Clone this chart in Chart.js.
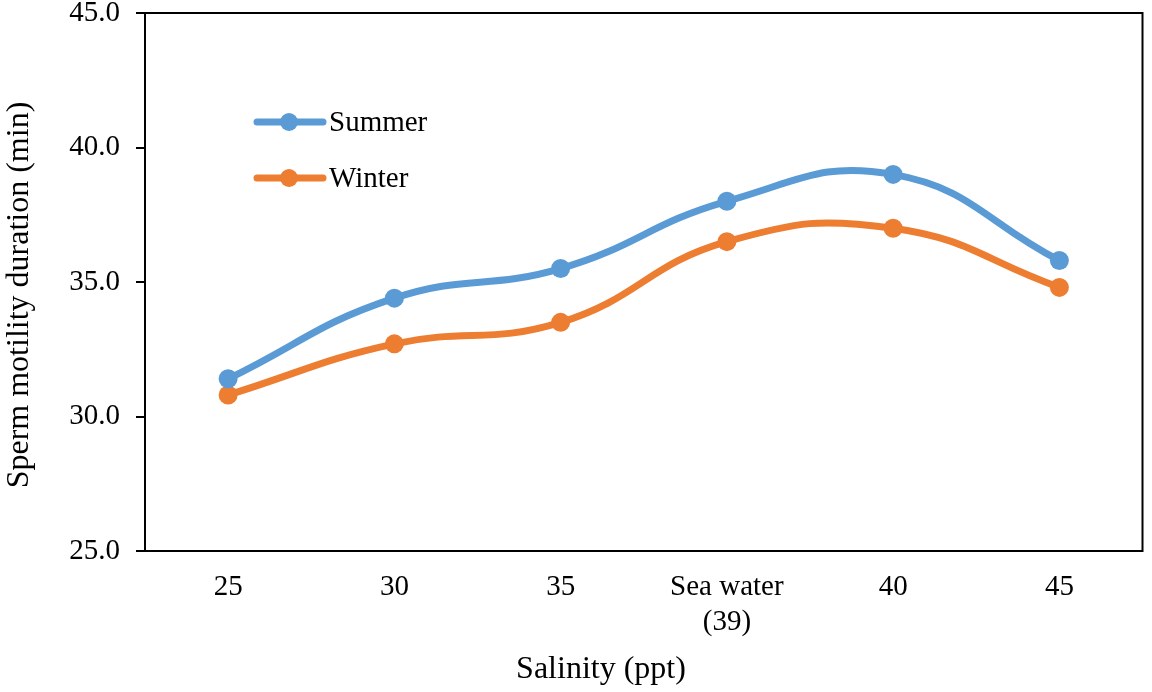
<!DOCTYPE html>
<html lang="en">
<head>
  <meta charset="UTF-8">
  <title>Sperm motility duration</title>
  <script src="https://cdn.jsdelivr.net/npm/chart.js"></script>
  <style>
    html, body { margin: 0; padding: 0; background: #fff; }
    #wrap { width: 1152px; height: 692px; }
  </style>
</head>
<body>
  <div id="wrap"><canvas id="chart"></canvas></div>

  <script>
    // data
    const categories = ['25', '30', '35', ['Sea water', '(39)'], '40', '45'];
    const summer = [31.4, 34.4, 35.5, 38.0, 39.0, 35.8];
    const winter = [30.8, 32.7, 33.5, 36.5, 37.0, 34.8];
    const yTicks = [25, 30, 35, 40, 45];

    const blue = '#5B9BD5';
    const orange = '#ED7D31';
    const font = 'Liberation Serif';

    // box round the plot area, legend inside it, axis titles
    const framePlugin = {
      id: 'frame',
      afterDraw(chart) {
        const { ctx, chartArea: a } = chart;
        ctx.save();
        ctx.strokeStyle = '#000';
        ctx.lineWidth = 2;
        ctx.strokeRect(a.left, a.top, a.right - a.left, a.bottom - a.top);

        // legend
        chart.data.datasets.forEach((ds, i) => {
          const y = 122 + i * 56;
          ctx.strokeStyle = ds.borderColor;
          ctx.lineWidth = 7;
          ctx.lineCap = 'round';
          ctx.beginPath();
          ctx.moveTo(257, y);
          ctx.lineTo(323, y);
          ctx.stroke();
          ctx.fillStyle = ds.borderColor;
          ctx.beginPath();
          ctx.arc(289, y, 9, 0, Math.PI * 2);
          ctx.fill();
          ctx.fillStyle = '#000';
          ctx.font = '29px "' + font + '"';
          ctx.textBaseline = 'middle';
          ctx.textAlign = 'left';
          ctx.fillText(ds.label, 329, y + 1);
        });

        // axis titles
        ctx.fillStyle = '#000';
        ctx.font = '32px "' + font + '"';
        ctx.textAlign = 'center';
        ctx.textBaseline = 'middle';
        ctx.fillText('Salinity (ppt)', 601, 670);
        ctx.translate(20, 295);
        ctx.rotate(-Math.PI / 2);
        ctx.fillText('Sperm motility duration (min)', 0, 0);
        ctx.restore();
      }
    };

    new Chart(document.getElementById('chart'), {
      type: 'line',
      data: {
        labels: categories,
        datasets: [
          {
            label: 'Summer',
            data: summer,
            borderColor: blue,
            backgroundColor: blue,
            borderWidth: 7,
            pointRadius: 9.5,
            pointBorderWidth: 0,
            tension: 0.45
          },
          {
            label: 'Winter',
            data: winter,
            borderColor: orange,
            backgroundColor: orange,
            borderWidth: 7,
            pointRadius: 9.5,
            pointBorderWidth: 0,
            tension: 0.45
          }
        ]
      },
      options: {
        responsive: true,
        maintainAspectRatio: false,
        animation: false,
        layout: { padding: { top: 13, right: 9, left: 0, bottom: 0 } },
        plugins: {
          legend: { display: false },
          tooltip: { enabled: false }
        },
        scales: {
          x: {
            offset: true,
            grid: { display: false },
            border: { display: true, color: '#000', width: 2 },
            ticks: {
              color: '#000',
              font: { family: font, size: 29 },
              padding: 11,
              maxRotation: 0
            },
            afterFit(scale) { scale.height = 141; }
          },
          y: {
            min: 25,
            max: 45,
            afterBuildTicks(scale) {
              scale.ticks = yTicks.map(v => ({ value: v }));
            },
            grid: {
              drawOnChartArea: false,
              drawTicks: true,
              tickLength: 9,
              color: '#000',
              lineWidth: 2
            },
            border: { display: true, color: '#000', width: 2 },
            ticks: {
              color: '#000',
              font: { family: font, size: 29 },
              padding: 16,
              callback: v => Number(v).toFixed(1)
            },
            afterFit(scale) {
              scale.width = 145;
              // let the 45.0 label overhang the top like in the original
              scale.paddingTop = 0;
              scale.paddingBottom = 0;
            }
          }
        }
      },
      plugins: [framePlugin]
    });
  </script>
</body>
</html>
